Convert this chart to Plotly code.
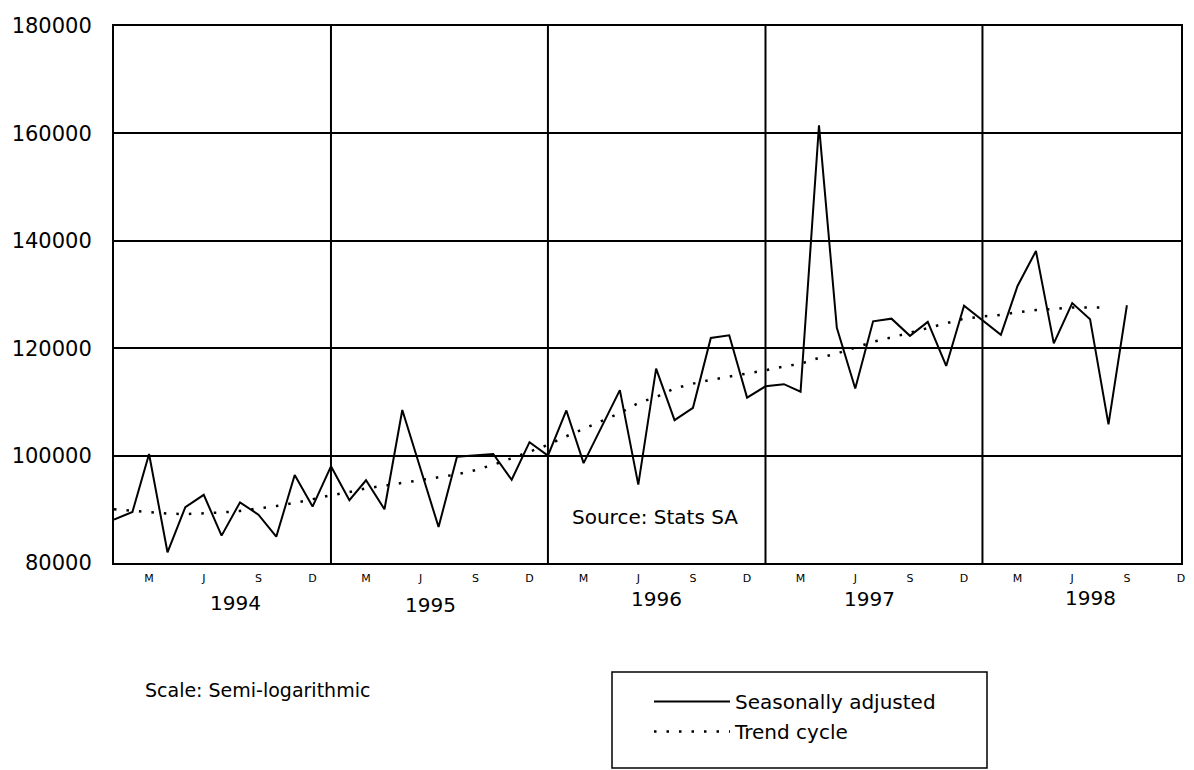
import pandas as pd
import plotly.graph_objects as go

# ---------------- data ----------------
dates = pd.date_range("1994-01-01", periods=57, freq="MS")  # Jan 1994 .. Sep 1998

seasonally_adjusted = [
    88100, 89500, 100300, 82000, 90400, 92700, 85100, 91300, 89000, 84900, 96400, 90500,    # 1994
    98000, 91700, 95400, 90000, 108500, 97600, 86700, 99800, 100000, 100300, 95500, 102500, # 1995
    100000, 108400, 98600, 105500, 112200, 94600, 116200, 106600, 108900, 121900, 122400, 110800,  # 1996
    112900, 113300, 111900, 161500, 123800, 112500, 125000, 125500, 122300, 124900, 116700, 127900, # 1997
    125200, 122500, 131600, 138100, 120900, 128400, 125400, 105800, 128000,                 # 1998
]

trend_cycle = [
    90000, 89700, 89400, 89200, 89100, 89200, 89400, 89700, 90100, 90600, 91200, 91900,     # 1994
    92600, 93200, 93900, 94400, 94900, 95400, 95900, 96500, 97300, 98300, 99500, 100800,   # 1995
    102000, 103600, 105000, 106400, 107900, 109800, 110900, 112500, 113400, 114100, 114700, 115200,  # 1996
    115900, 116600, 117100, 118200, 119000, 120100, 121200, 122000, 122900, 123700, 124700, 125500,  # 1997
    125900, 126200, 126700, 127100, 127300, 127600, 127600, 127600,                        # 1998
]

y_tick_values = [80000, 100000, 120000, 140000, 160000, 180000]
y_tick_labels = ["80000", "100000", "120000", "140000", "160000", "180000"]

month_tick_dates = pd.date_range("1994-03-01", periods=20, freq="3MS")
month_tick_labels = ["M", "J", "S", "D"] * 5

year_labels = ["1994", "1995", "1996", "1997", "1998"]
year_label_dates = ["1994-07-24", "1995-06-18", "1996-07-01", "1997-06-25", "1998-07-01"]
year_boundaries = ["1995-01-01", "1996-01-01", "1997-01-01", "1998-01-01"]

series_names = ["Seasonally adjusted", "Trend cycle"]
source_text = "Source: Stats SA"
scale_text = "Scale: Semi-logarithmic"

# ---------------- figure ----------------
FONT = "DejaVu Sans, Verdana, sans-serif"
W, H = 1194, 770
L, R, T, B = 114, 13, 26, 207
plot_w = W - L - R
plot_h = H - T - B


def paper_y(px):
    return (H - B - px) / plot_h


def paper_x(px):
    return (px - L) / plot_w


fig = go.Figure()
fig.add_trace(go.Scatter(
    x=dates, y=seasonally_adjusted, mode="lines", name=series_names[0],
    legendgroup="sa", line=dict(color="black", width=2),
))
fig.add_trace(go.Scatter(
    x=dates[:len(trend_cycle)], y=trend_cycle, mode="lines", name=series_names[1],
    legendgroup="tc", line=dict(color="black", width=2.5, dash="2.5px,10px"),
))

shapes = []
for d in year_boundaries:
    shapes.append(dict(type="line", xref="x", yref="paper", x0=d, x1=d, y0=0, y1=1,
                       line=dict(color="black", width=2), layer="above"))
# legend box
shapes.append(dict(type="rect", xref="paper", yref="paper",
                   x0=paper_x(612), x1=paper_x(987),
                   y0=paper_y(768), y1=paper_y(672),
                   line=dict(color="black", width=1.5)))

annotations = []
year_px_y = [603, 605, 599, 599, 598]
for lab, d, py in zip(year_labels, year_label_dates, year_px_y):
    annotations.append(dict(text=lab, x=d, xref="x", y=paper_y(py), yref="paper",
                            xanchor="center", yanchor="middle", showarrow=False,
                            font=dict(size=20, color="black", family=FONT)))
annotations.append(dict(text=source_text, x="1996-02-07", xref="x", y=paper_y(517), yref="paper",
                        xanchor="left", yanchor="middle", showarrow=False,
                        font=dict(size=20, color="black", family=FONT)))
annotations.append(dict(text=scale_text, x=paper_x(143), xref="paper",
                        y=paper_y(690), yref="paper", xanchor="left", yanchor="middle",
                        showarrow=False,
                        font=dict(size=19, color="black", family=FONT)))

fig.update_layout(
    width=W, height=H,
    margin=dict(l=L, r=R, t=T, b=B, autoexpand=False),
    paper_bgcolor="white", plot_bgcolor="white",
    font=dict(family=FONT, color="black"),
    shapes=shapes, annotations=annotations,
    showlegend=True,
    legend=dict(x=paper_x(649), xanchor="left", y=paper_y(682), yanchor="top",
                font=dict(size=20, color="black", family=FONT),
                itemwidth=76, bgcolor="rgba(0,0,0,0)", borderwidth=0,
                tracegroupgap=1),
    xaxis=dict(
        range=["1994-01-01", "1998-12-01"], type="date",
        tickvals=list(month_tick_dates), ticktext=month_tick_labels,
        tickfont=dict(size=11, color="black", family=FONT),
        ticks="", ticklabelstandoff=4,
        showgrid=False, zeroline=False,
        showline=True, mirror=True, linecolor="black", linewidth=2,
    ),
    yaxis=dict(
        range=[80000, 180000],
        tickvals=y_tick_values, ticktext=y_tick_labels,
        tickfont=dict(size=21, color="black", family=FONT),
        ticks="", ticklabelstandoff=16,
        showgrid=True, gridcolor="black", gridwidth=2,
        zeroline=False,
        showline=True, mirror=True, linecolor="black", linewidth=2,
    ),
)

fig.write_html(
    "out.html",
    config={"displayModeBar": False},
    post_script="document.documentElement.style.margin='0';document.body.style.margin='0';"
                "document.body.style.overflow='hidden';",
)
